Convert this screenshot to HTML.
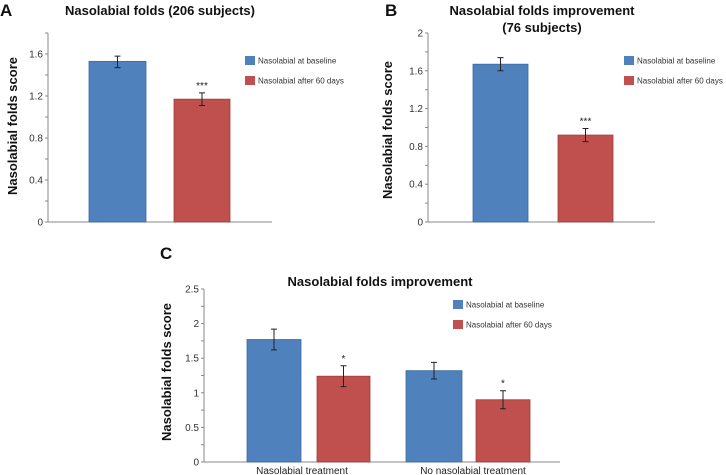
<!DOCTYPE html>
<html><head><meta charset="utf-8"><style>
body{margin:0;background:#fff}
svg{display:block;font-family:"Liberation Sans",Arial,sans-serif}
</style></head><body>
<svg id="s" width="726" height="475" viewBox="0 0 726 475"></svg>
<script>
const catsA=["Nasolabial at baseline","Nasolabial after 60 days"];
const valsA=[1.53,1.17];
const errLoA=[1.47,1.11];
const errHiA=[1.58,1.23];
const ticksA=[0,0.4,0.8,1.2,1.6];
const valsB=[1.67,0.92];
const errLoB=[1.60,0.85];
const errHiB=[1.74,0.99];
const ticksB=[0,0.4,0.8,1.2,1.6,2];
const catsC=["Nasolabial treatment","No nasolabial treatment"];
const baseC=[1.77,1.32];
const afterC=[1.24,0.90];
const baseLoC=[1.62,1.20],baseHiC=[1.92,1.44];
const afterLoC=[1.09,0.77],afterHiC=[1.39,1.03];
const ticksC=[0,0.5,1,1.5,2,2.5];
const tickLabelsC=["0","0.5","1","1.5","2","2.5"];

const NS="http://www.w3.org/2000/svg";
const svg=document.getElementById('s');
function el(t,a,txt){const e=document.createElementNS(NS,t);for(const k in a)e.setAttribute(k,a[k]);if(txt!=null)e.textContent=txt;svg.appendChild(e);return e;}
const BLUE="#4f81bd",RED="#c0504d";

function chart(o){
  const y=v=>o.y0-(v-0)/o.max*(o.y0-o.yTop);
  let e=el('line',{x1:o.ax,y1:o.yTop,x2:o.ax,y2:o.y0,stroke:'#888','stroke-width':1});
  
  e=el('line',{x1:o.ax,y1:o.y0,x2:o.axEnd,y2:o.y0,stroke:'#888','stroke-width':1});
  
  const step=(o.ticks[1]-o.ticks[0])/2;
  for(let v=0;v<=o.max+1e-9;v+=step){
    e=el('line',{x1:o.ax-3,y1:y(v),x2:o.ax,y2:y(v),stroke:'#888'});
    
  }
  o.ticks.forEach((t,i)=>{
    e=el('text',{x:o.ax-5,y:y(t)+3.5,'text-anchor':'end','font-size':10,fill:'#333'},o.labels?o.labels[i]:String(t));
    
  });
  o.bars.forEach(b=>{
    e=el('rect',{x:b.x,y:y(b.v),width:b.w,height:o.y0-y(b.v),fill:b.c,stroke:b.c=='#4f81bd'?'#3d6a9e':'#9e3e3b','stroke-width':0.8});
    
    const cx=b.x+b.w/2;
    e=el('path',{d:`M${cx-3},${y(b.hi)}H${cx+3}M${cx},${y(b.hi)}V${y(b.lo)}M${cx-3},${y(b.lo)}H${cx+3}`,stroke:'#222',fill:'none','stroke-width':1});
    
    if(b.star){e=el('text',{x:cx,y:y(b.hi)-4,'text-anchor':'middle','font-size':10,fill:'#222'},b.star);
      }
  });
  [[BLUE,catsA[0],o.lgY],[RED,catsA[1],o.lgY+20]].forEach(([c,t,ly])=>{
    e=el('rect',{x:o.lgX,y:ly-4,width:10,height:9,fill:c});
    
    e=el('text',{x:o.lgX+13,y:ly+3.5,'font-size':8,fill:'#333'},t);
    
  });
  e=el('text',{transform:`translate(${o.ytX},${o.ytY}) rotate(-90)`,'text-anchor':'middle','font-size':13,'font-weight':'bold',fill:'#111'},'Nasolabial folds score');
  
  o.title.forEach((t,i)=>{e=el('text',{x:o.tX,y:o.tY+i*17,'text-anchor':'middle','font-size':13,'font-weight':'bold',fill:'#111'},t);
    });
  e=el('text',{x:o.pX,y:o.pY,'font-size':17,'font-weight':'bold',fill:'#111'},o.panel);
  
  return y;
}
chart({id:'a',ax:48,axEnd:272,y0:222,yTop:33,max:1.8,ticks:ticksA,
  bars:[{x:89,w:57,v:valsA[0],lo:errLoA[0],hi:errHiA[0],c:BLUE},{x:174,w:56,v:valsA[1],lo:errLoA[1],hi:errHiA[1],c:RED,star:'***'}],
  lgX:245,lgY:60,ytX:17,ytY:126,tX:160,tY:15,title:['Nasolabial folds (206 subjects)'],pX:0,pY:16,panel:'A'});
chart({id:'b',ax:428,axEnd:655,y0:222,yTop:33,max:2,ticks:ticksB,
  bars:[{x:473,w:55,v:valsB[0],lo:errLoB[0],hi:errHiB[0],c:BLUE},{x:558,w:55,v:valsB[1],lo:errLoB[1],hi:errHiB[1],c:RED,star:'***'}],
  lgX:624,lgY:60,ytX:392,ytY:130,tX:542,tY:15,title:['Nasolabial folds improvement','(76 subjects)'],pX:385,pY:16,panel:'B'});
chart({id:'c',ax:204,axEnd:560,y0:462,yTop:289,max:2.5,ticks:ticksC,labels:tickLabelsC,
  bars:[{x:247,w:54,v:baseC[0],lo:baseLoC[0],hi:baseHiC[0],c:BLUE},{x:317,w:53,v:afterC[0],lo:afterLoC[0],hi:afterHiC[0],c:RED,star:'*'},
        {x:406,w:56,v:baseC[1],lo:baseLoC[1],hi:baseHiC[1],c:BLUE},{x:476,w:54,v:afterC[1],lo:afterLoC[1],hi:afterHiC[1],c:RED,star:'*'}],
  lgX:453,lgY:304,ytX:171,ytY:372,tX:380,tY:286,title:['Nasolabial folds improvement'],pX:160,pY:259,panel:'C'});
[[302,catsC[0]],[473,catsC[1]]].forEach(([x,t])=>{
  const e=el('text',{x:x,y:474,'text-anchor':'middle','font-size':10,fill:'#222'},t);
  
  
});
</script>
</body></html>
